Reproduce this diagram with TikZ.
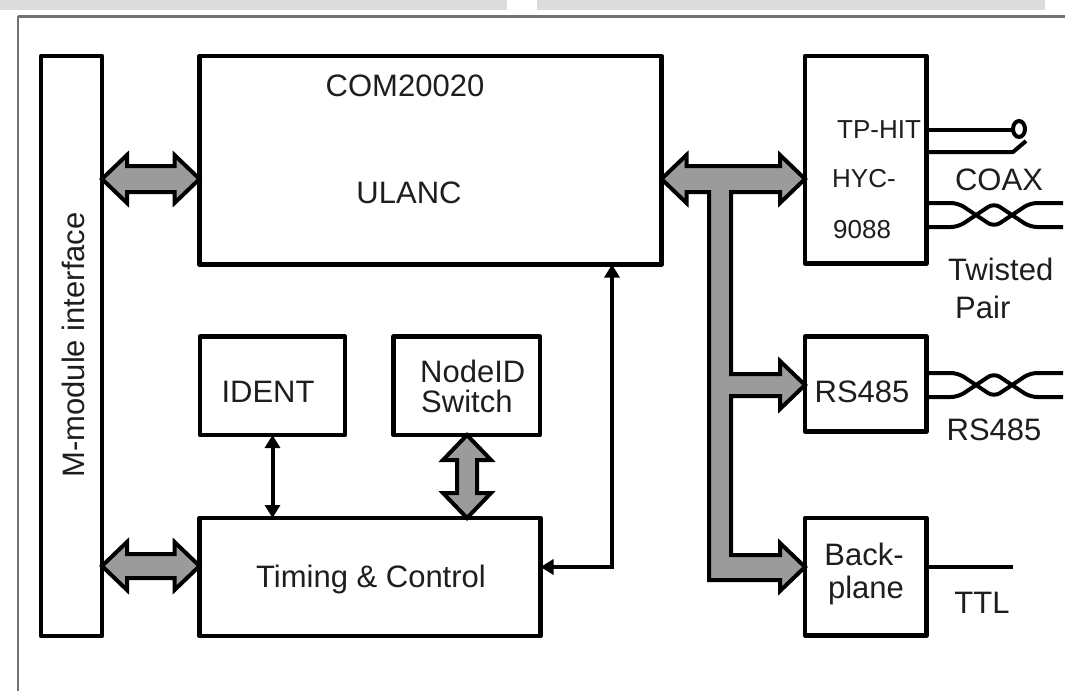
\documentclass[tikz,border=0pt]{standalone}
\usepackage{fontspec}
\setmainfont{Liberation Sans}
\usetikzlibrary{arrows.meta,calc}
\definecolor{bargray}{RGB}{220,220,220}
\definecolor{fatgray}{RGB}{155,155,155}
\definecolor{framegray}{RGB}{115,115,115}
\definecolor{txt}{RGB}{30,30,30}
% horizontal double fat arrow: #1 left anchor, #2 right anchor, #3 y, #4 shaft half, #5 head half
\newcommand\hfat[5]{%
 \draw[fat] let \p1=(#1), \p2=(#2) in
  (\x1,#3) -- (\x1+25,#3-#5) -- (\x1+25,#3-#4) -- (\x2-25,#3-#4) -- (\x2-25,#3-#5) --
  (\x2,#3) -- (\x2-25,#3+#5) -- (\x2-25,#3+#4) -- (\x1+25,#3+#4) -- (\x1+25,#3+#5) -- cycle;}
% vertical double fat arrow: #1 top anchor, #2 bottom anchor, #3 x, #4 shaft half, #5 head half
\newcommand\vfat[5]{%
 \draw[fat] let \p1=(#1), \p2=(#2) in
  (#3,\y1) -- (#3+#5,\y1-25) -- (#3+#4,\y1-25) -- (#3+#4,\y2+25) -- (#3+#5,\y2+25) --
  (#3,\y2) -- (#3-#5,\y2+25) -- (#3-#4,\y2+25) -- (#3-#4,\y1-25) -- (#3-#5,\y1-25) -- cycle;}
% twisted pair: #1 start anchor, #2 top y, #3 bottom y
\newcommand\twist[3]{%
 \draw[wire] let \p1=(#1) in (\x1,#2) -- (958,#2) -- (994,#3) -- (1030,#2) -- (1063,#2);
 \draw[wire] let \p1=(#1) in (\x1,#3) -- (958,#3) -- (994,#2) -- (1030,#3) -- (1063,#3);}
\begin{document}
\begin{tikzpicture}[x=1pt,y=-1pt,
  box/.style={draw=black,line width=4.5pt,rectangle,inner sep=0pt,outer sep=0pt,line join=round},
  fat/.style={draw=black,fill=fatgray,line width=4pt,line join=miter},
  thinarrow/.style={line width=4pt,{Triangle[length=13pt,width=15pt]}-{Triangle[length=13pt,width=15pt]}},
  lbl/.style={font=\fontsize{31}{37}\selectfont, text=txt, anchor=base, inner sep=0pt},
  slbl/.style={font=\fontsize{26}{31}\selectfont, text=txt, anchor=base west, inner sep=0pt},
  wire/.style={line width=4pt, line join=round, rounded corners=7pt}
]
\useasboundingbox (0,0) rectangle (1065,691);
\fill[white] (0,0) rectangle (1065,691);
% top bars and frame
\fill[bargray] (0,0) rectangle (507,10);
\fill[bargray] (537,0) rectangle (1045,10);
\draw[framegray,line width=3pt] (18,16) -- (1065,16);
\draw[framegray,line width=1.5pt] (18,16) -- (18,691);

% boxes
\node[box,minimum width=61pt,minimum height=580pt] (mm) at (71.5,346) {};
\node[box,minimum width=462pt,minimum height=208.5pt] (com) at (430.5,160.25) {};
\node[box,minimum width=121.5pt,minimum height=207.5pt] (hyc) at (865.75,159.75) {};
\node[box,minimum width=121.5pt,minimum height=95pt] (rs) at (865.75,384) {};
\node[box,minimum width=121.5pt,minimum height=117.5pt] (bp) at (865.75,576.75) {};
\node[box,minimum width=341pt,minimum height=118pt] (tc) at (370,577) {};
\node[box,minimum width=145pt,minimum height=98.5pt] (ident) at (272.5,385.75) {};
\node[box,minimum width=146.5pt,minimum height=98.5pt] (nid) at (466.75,385.75) {};

% texts
\node[font=\fontsize{31}{37}\selectfont,text=txt,rotate=90,inner sep=0pt] (mmt) at (73,345) {M-module interface};
\node[lbl] (com1) at (405,96) {COM20020};
\node[lbl] (com2) at (409,203) {ULANC};
\node[lbl] (tct) at (371,587) {Timing \& Control};
\node[lbl] (idt) at (268,402) {IDENT};
\node[lbl,anchor=base west] (nid1) at (420,382) {NodeID};
\node[lbl,anchor=base west] (nid2) at (421,412) {Switch};
\node[slbl] (hyc1) at (837,138) {TP-HIT};
\node[slbl] (hyc2) at (832,187) {HYC-};
\node[slbl] (hyc3) at (833,238) {9088};
\node[lbl] (rst) at (862,402) {RS485};
\node[lbl] (bp1) at (864,565) {Back-};
\node[lbl] (bp2) at (866,598) {plane};
\node[lbl] (coax) at (999,190) {COAX};
\node[lbl,anchor=base west] (tp1) at (948,280) {Twisted};
\node[lbl,anchor=base west] (tp2) at (955,318) {Pair};
\node[lbl] (rsl) at (994,440) {RS485};
\node[lbl] (ttl) at (982,613) {TTL};

% fat arrows
\hfat{mm.east}{com.west}{179}{13}{24}
\hfat{mm.east}{tc.west}{566}{12}{24}
\vfat{nid.south}{tc.north}{467}{10}{24}
\draw[fat] let \p1=(com.east), \p2=(hyc.west), \p3=(rs.west), \p4=(bp.west) in
 (\x1,179) -- (\x1+25,155) -- (\x1+25,166) -- (\x2-25,166) -- (\x2-25,155) -- (\x2,179) --
 (\x2-25,203) -- (\x2-25,192) -- (731,192) -- (731,374) -- (\x3-25,374) -- (\x3-25,361) --
 (\x3,385) -- (\x3-25,409) -- (\x3-25,396) -- (731,396) -- (731,555) -- (\x4-25,555) --
 (\x4-25,543) -- (\x4,567) -- (\x4-25,591) -- (\x4-25,580) -- (709,580) -- (709,192) --
 (\x1+25,192) -- (\x1+25,203) -- cycle;

% thin arrows
\draw[thinarrow] (ident.south) -- (ident.south |- tc.north);
\draw[thinarrow] (tc.east |- 0,567) -- (612,567) -- (612,0 |- com.south);

% coax
\draw[line width=4pt] (hyc.east |- 0,130) -- (1012,130);
\draw[line width=4pt] (1019,129) ellipse [x radius=6, y radius=8];
\draw[line width=4pt,line join=round] (hyc.east |- 0,152) -- (1013,152) -- (1026,141);
% twisted pairs
\twist{hyc.east}{203}{227}
\twist{rs.east}{373}{397}
% TTL
\draw[line width=4pt] (bp.east |- 0,567) -- (1013,567);
\end{tikzpicture}
\end{document}
